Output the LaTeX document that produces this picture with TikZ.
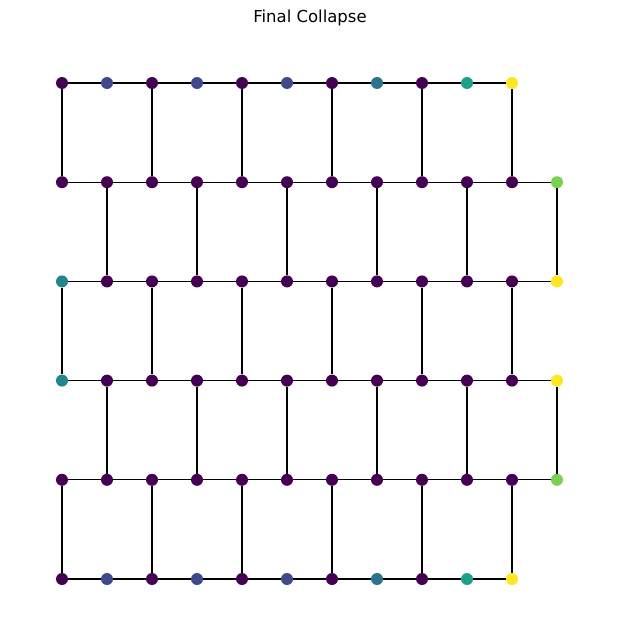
\documentclass[tikz,border=0pt]{standalone}
\usepackage{fontspec}
\setmainfont{DejaVu Sans}
\usepackage{xcolor}
\usepackage{tikz}
\usetikzlibrary{positioning}

\definecolor{vd}{HTML}{440154}
\definecolor{vb}{HTML}{3E4A89}
\definecolor{vt}{HTML}{2C718E}
\definecolor{vc}{HTML}{23868D}
\definecolor{vg}{HTML}{1F9E89}
\definecolor{vl}{HTML}{7AD151}
\definecolor{vy}{HTML}{FDE725}

\begin{document}
\begin{tikzpicture}[
    x=1pt, y=-1pt,
    simpul/.style={circle, inner sep=0pt, minimum size=12pt, draw=none},
    sisi/.style={line width=1.35pt, black}
  ]
    \useasboundingbox (0,0) rectangle (619,642);
    \node[font=\fontsize{16.5}{19}\selectfont] (judul) at (310,18) {Final Collapse};

    % titik-titik kisi
    \foreach \r/\warna in {0/{vd,vb,vd,vb,vd,vb,vd,vt,vd,vg,vy},
                           1/{vd,vd,vd,vd,vd,vd,vd,vd,vd,vd,vd,vl},
                           2/{vc,vd,vd,vd,vd,vd,vd,vd,vd,vd,vd,vy},
                           3/{vc,vd,vd,vd,vd,vd,vd,vd,vd,vd,vd,vy},
                           4/{vd,vd,vd,vd,vd,vd,vd,vd,vd,vd,vd,vl},
                           5/{vd,vb,vd,vb,vd,vb,vd,vt,vd,vg,vy}}
      \foreach \w [count=\c from 0] in \warna
        \node[simpul, fill=\w] (n-\r-\c) at ({62+45*\c},{83+99.2*\r}) {};

    % sisi mendatar
    \foreach \r/\m in {0/10,1/11,2/11,3/11,4/11,5/10}
      \foreach \c in {1,...,\m} {
        \pgfmathtruncatemacro\p{\c-1}
        \draw[sisi] (n-\r-\p) -- (n-\r-\c);
      }

    % sisi tegak
    \foreach \r/\s in {0/0,1/1,2/0,3/1,4/0} {
      \pgfmathtruncatemacro\t{\s+2}
      \pgfmathtruncatemacro\q{\r+1}
      \foreach \c in {\s,\t,...,11}
        \draw[sisi] (n-\r-\c) -- (n-\q-\c);
    }
  \end{tikzpicture}
\end{document}
